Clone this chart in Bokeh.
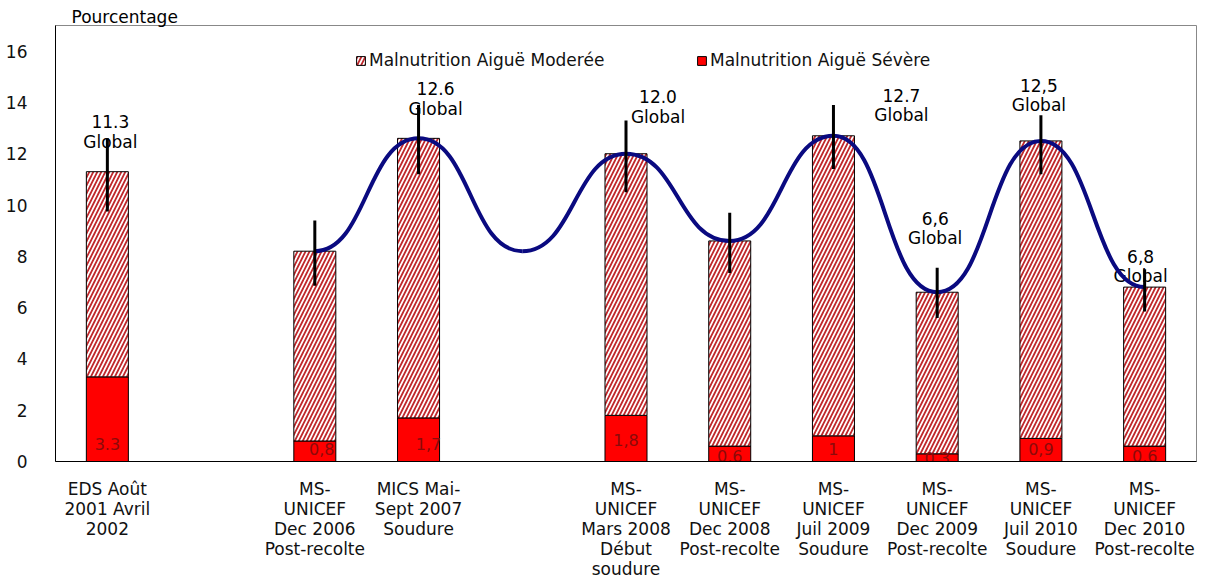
import numpy as np
from bokeh.plotting import figure
from bokeh.models import (ColumnDataSource, Range1d, FixedTicker, Legend,
                          LegendItem)
from bokeh.core.properties import value
from bokeh.embed import file_html
from bokeh.resources import INLINE

# ---------------- data ----------------
categories = [
    "EDS Août\n2001 Avril\n2002",
    "",
    "MS-\nUNICEF\nDec 2006\nPost-recolte",
    "MICS Mai-\nSept 2007\nSoudure",
    "",
    "MS-\nUNICEF\nMars 2008\nDébut\nsoudure",
    "MS-\nUNICEF\nDec 2008\nPost-recolte",
    "MS-\nUNICEF\nJuil 2009\nSoudure",
    "MS-\nUNICEF\nDec 2009\nPost-recolte",
    "MS-\nUNICEF\nJuil 2010\nSoudure",
    "MS-\nUNICEF\nDec 2010\nPost-recolte",
]
bar_slots = [0, 2, 3, 5, 6, 7, 8, 9, 10]
global_vals = [11.3, 8.2, 12.6, 12.0, 8.6, 12.7, 6.6, 12.5, 6.8]
severe_vals = [3.3, 0.8, 1.7, 1.8, 0.6, 1.0, 0.3, 0.9, 0.6]
severe_text = ["3.3", "0,8", "1,7", "1,8", "0,6", "1", "0,3", "0,9", "0,6"]
global_text = ["11.3", "", "12.6", "12.0", "", "12.7", "6,6", "12,5", "6,8"]
err_low = [9.75, 6.85, 11.2, 10.5, 7.35, 11.4, 5.6, 11.2, 5.85]
err_high = [12.6, 9.4, 13.9, 13.3, 9.7, 13.9, 7.55, 13.5, 7.5]
curve_slots = [2, 3, 4, 5, 6, 7, 8, 9, 10]
curve_vals = [8.2, 12.6, 8.2, 12.0, 8.6, 12.7, 6.6, 12.5, 6.8]
y_ticks = [0, 2, 4, 6, 8, 10, 12, 14, 16]

# ---------------- layout helpers (positions only) ----------------
global_label_y = [12.47, 0, 13.75, 13.44, 0, 13.51, 8.70, 13.90, 7.22]
global_label_dx = [3, 0, 17, 32, 0, 68, -2, -2, -4]
severe_label_y = [0.70, 0.47, 0.70, 0.85, 0.23, 0.50, 0.12, 0.47, 0.23]
severe_label_dx = [0, 7, 10, 0, 0, 0, 0, 0, 0]

FONT = "DejaVu Sans"

moderate_vals = [g - s for g, s in zip(global_vals, severe_vals)]

bars = ColumnDataSource(dict(
    x=bar_slots, sev=severe_vals, glob=global_vals, mod=moderate_vals,
    sev_txt=severe_text, sev_y=severe_label_y, sev_dx=severe_label_dx,
    lo=err_low, hi=err_high,
))

lab_idx = [i for i, t in enumerate(global_text) if t]
glabels = ColumnDataSource(dict(
    x=[bar_slots[i] for i in lab_idx],
    y=[global_label_y[i] for i in lab_idx],
    dx=[global_label_dx[i] for i in lab_idx],
    num=[global_text[i] for i in lab_idx],
    word=["Global"] * len(lab_idx),
))

p = figure(width=1207, height=581, output_backend="svg", toolbar_location=None,
           x_range=Range1d(-0.5, len(categories) - 0.5), y_range=Range1d(0, 17),
           min_border_left=55, min_border_right=11, min_border_top=25,
           min_border_bottom=120, title="Pourcentage")
p.title.text_font = FONT
p.title.text_font_size = "17px"
p.title.text_font_style = "normal"
p.title.text_color = "black"
p.title.align = "left"
p.title.offset = 16
p.title.standoff = -3
p.background_fill_color = "white"
p.border_fill_color = "white"
p.outline_line_color = "#888888"
p.outline_line_width = 1
p.xgrid.grid_line_color = None
p.ygrid.grid_line_color = None

# bars
W = 0.405
sev_r = p.vbar(x="x", bottom=0, top="sev", width=W, source=bars,
               fill_color="#ff0000", line_color="black", line_width=1)
mod_r = p.vbar(x="x", bottom="sev", top="glob", width=W, source=bars,
               fill_color="white", line_color="black", line_width=1,
               hatch_pattern="/", hatch_color="#c0282c", hatch_scale=8,
               hatch_weight=1.8)

# severe value labels
p.text(x="x", y="sev_y", text="sev_txt", x_offset="sev_dx", source=bars,
       text_font=value(FONT), text_font_size="16px", text_color="#8b0a0a",
       text_align="center", text_baseline="middle")

# global labels
p.text(x="x", y="y", text="word", x_offset="dx", source=glabels,
       text_font=value(FONT), text_font_size="17px", text_color="black",
       text_align="center", text_baseline="middle")
p.text(x="x", y="y", text="num", x_offset="dx", y_offset=-20, source=glabels,
       text_font=value(FONT), text_font_size="17px", text_color="black",
       text_align="center", text_baseline="middle")

# smooth curve through the points (cubic Bezier, horizontal tangents)
cx = np.array(curve_slots, dtype=float)
cy = np.array(curve_vals, dtype=float)
k = 0.5
dxs = cx[1:] - cx[:-1]
curve = ColumnDataSource(dict(
    x0=cx[:-1], y0=cy[:-1], x1=cx[1:], y1=cy[1:],
    cx0=cx[:-1] + k * dxs, cy0=cy[:-1],
    cx1=cx[1:] - k * dxs, cy1=cy[1:],
))
p.bezier(x0="x0", y0="y0", x1="x1", y1="y1", cx0="cx0", cy0="cy0",
         cx1="cx1", cy1="cy1", source=curve, line_color="#0a0a80",
         line_width=4)

# error bars
p.segment(x0="x", y0="lo", x1="x", y1="hi", source=bars,
          line_color="black", line_width=3)

# axes
p.xaxis.ticker = FixedTicker(ticks=[i for i, c in enumerate(categories) if c])
p.xaxis.major_label_overrides = {i: c for i, c in enumerate(categories) if c}
p.xaxis.major_tick_line_color = None
p.xaxis.minor_tick_line_color = None
p.xaxis.axis_line_color = "black"
p.xaxis.major_label_text_font = FONT
p.xaxis.major_label_text_font_size = "17px"
p.xaxis.major_label_text_line_height = 1.0
p.xaxis.major_label_text_color = "#111111"
p.xaxis.major_label_standoff = 11

p.yaxis.ticker = FixedTicker(ticks=y_ticks)
p.yaxis.major_tick_line_color = None
p.yaxis.minor_tick_line_color = None
p.yaxis.axis_line_color = "black"
p.yaxis.major_label_text_font = FONT
p.yaxis.major_label_text_font_size = "17px"
p.yaxis.major_label_text_color = "#111111"
p.yaxis.major_label_standoff = 22

# legends
for rend, name, loc in [(mod_r, "Malnutrition Aiguë Moderée", (300, 391)),
                        (sev_r, "Malnutrition Aiguë Sévère", (641, 391))]:
    lg = Legend(items=[LegendItem(label=name, renderers=[rend])],
                location=loc, orientation="horizontal",
                background_fill_alpha=0, border_line_color=None,
                padding=0, margin=0, glyph_width=11, glyph_height=11,
                label_standoff=3, label_text_font=FONT,
                label_text_font_size="17px", label_text_color="#111111")
    p.add_layout(lg)

open("out.html", "w").write(file_html(p, INLINE))
